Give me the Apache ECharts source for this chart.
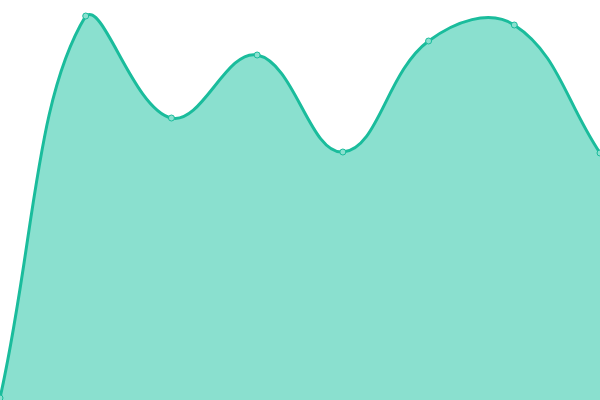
<!DOCTYPE html>
<html><head><meta charset="utf-8">
<script src="https://cdn.jsdelivr.net/npm/echarts@6/dist/echarts.min.js"></script>
<style>html,body{margin:0;padding:0;background:#fff}#c{width:600px;height:400px}</style>
</head><body><div id="c"></div>
<script>
var categories = ['A','B','C','D','E','F','G','H'];
var values = [2, 384, 282, 345, 248, 359, 375, 247];

var TENSION = 0.4;
function buildPath(pts, rect) {
  var n = pts.length, cps = [];
  for (var i = 0; i < n; i++) {
    var p = pts[i], prev = pts[i - 1] || p, next = pts[i + 1] || p;
    var d01 = Math.hypot(p[0] - prev[0], p[1] - prev[1]);
    var d12 = Math.hypot(next[0] - p[0], next[1] - p[1]);
    var s01 = d01 / (d01 + d12), s12 = d12 / (d01 + d12);
    if (isNaN(s01)) s01 = 0; if (isNaN(s12)) s12 = 0;
    var fa = TENSION * s01, fb = TENSION * s12;
    var dx = next[0] - prev[0], dy = next[1] - prev[1];
    var cpPrev = [p[0] - fa * dx, p[1] - fa * dy];
    var cpNext = [p[0] + fb * dx, p[1] + fb * dy];
    [cpPrev, cpNext].forEach(function (c) {
      c[0] = Math.max(rect.x, Math.min(rect.x + rect.width, c[0]));
      c[1] = Math.max(rect.y, Math.min(rect.y + rect.height, c[1]));
    });
    cps.push([cpPrev, cpNext]);
  }
  var d = 'M' + pts[0][0] + ',' + pts[0][1];
  for (var j = 1; j < n; j++) {
    var a = cps[j - 1][1], b = cps[j][0];
    d += 'C' + a[0] + ',' + a[1] + ' ' + b[0] + ',' + b[1] + ' ' + pts[j][0] + ',' + pts[j][1];
  }
  return d;
}

var chart = echarts.init(document.getElementById('c'));
chart.setOption({
  animation: false,
  grid: {left: 0, right: 0, top: 0, bottom: 0},
  xAxis: {type: 'category', data: categories, boundaryGap: false, show: false},
  yAxis: {type: 'value', min: 0, max: 400, show: false},
  series: [{
    type: 'custom',
    clip: false,
    data: values.map(function (v, i) { return [i, v]; }),
    renderItem: function (params, api) {
      var i = params.dataIndex;
      var children = [];
      if (i === 0) {
        var pts = values.map(function (v, k) { return api.coord([k, v]); });
        var base0 = api.coord([0, 0]), base1 = api.coord([values.length - 1, 0]);
        var linePath = buildPath(pts, params.coordSys);
        var areaPath = linePath + 'L' + base1[0] + ',' + base1[1] + 'L' + base0[0] + ',' + base0[1] + 'Z';
        children.push({type: 'path', shape: {pathData: areaPath}, style: {fill: '#8ae0cf', stroke: null}});
        children.push({type: 'path', shape: {pathData: linePath}, style: {fill: null, stroke: '#1abc9c', lineWidth: 3}});
      }
      var c = api.coord([i, values[i]]);
      children.push({type: 'circle', shape: {cx: c[0], cy: c[1], r: 3}, style: {fill: '#8ae0cf', stroke: '#1abc9c', lineWidth: 1}});
      return {type: 'group', children: children};
    }
  }]
});
</script></body></html>
